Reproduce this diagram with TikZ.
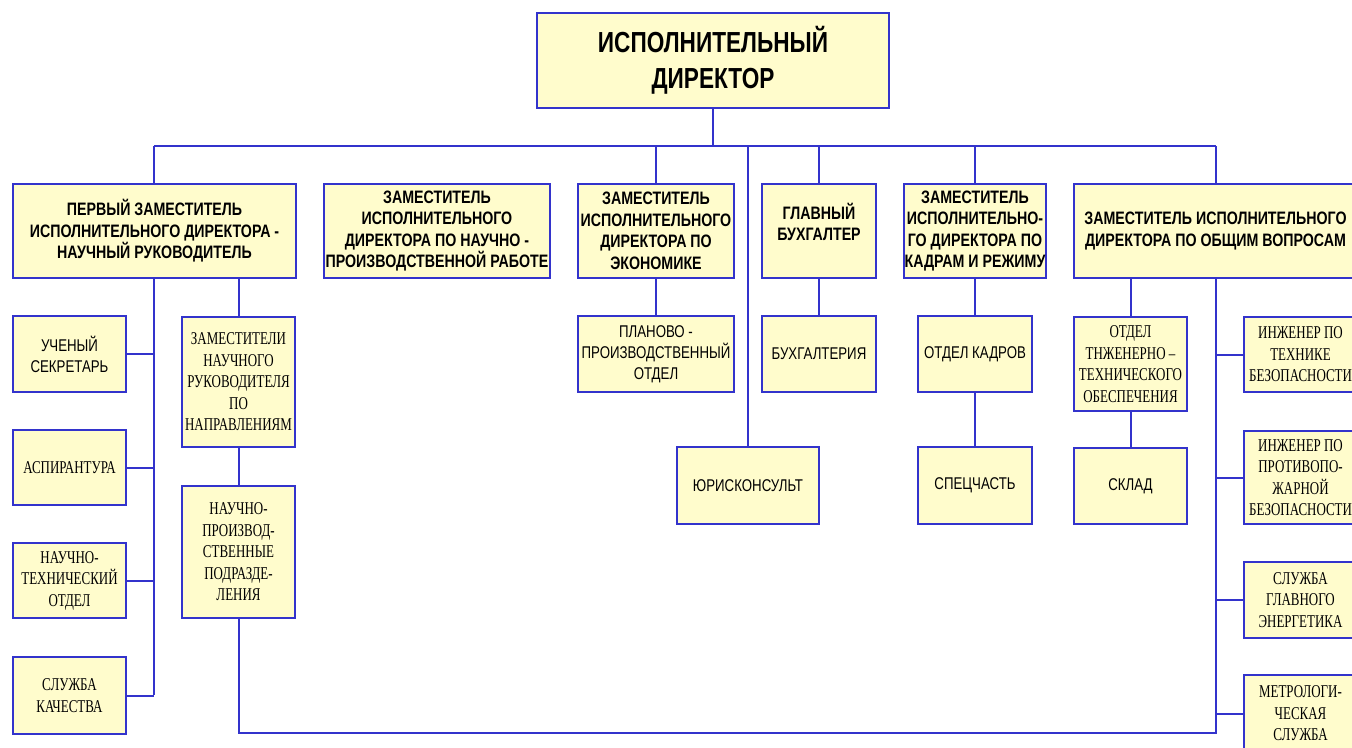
\documentclass[tikz,border=0pt]{standalone}
\usepackage{fontspec}
\setmainfont{Liberation Serif}
\setsansfont{Liberation Sans}
\newfontfamily\narrowsans[FakeStretch=0.78]{Liberation Sans}
\newfontfamily\headsans[FakeStretch=0.79]{Liberation Sans}
\newfontfamily\narrowserif[FakeStretch=0.72]{Liberation Serif}
\definecolor{orgblue}{RGB}{51,51,204}
\definecolor{orgfill}{RGB}{255,252,204}

\begin{document}
\begin{tikzpicture}[x=1pt, y=-1pt,
	box/.style={draw=orgblue, fill=orgfill, line width=2pt, inner sep=1pt, align=center},
	topbox/.style={box, font=\narrowsans\bfseries\fontsize{29}{36}\selectfont},
	headbox/.style={box, font=\headsans\bfseries\fontsize{18}{21.5}\selectfont},
	deptbox/.style={box, font=\narrowsans\fontsize{17}{21}\selectfont},
	unitbox/.style={box, font=\narrowserif\fontsize{18}{21.5}\selectfont},
	link/.style={draw=orgblue, line width=2pt}]
	\useasboundingbox (0,0) rectangle (1352,747);
	\clip (0,0) rectangle (1352,747);
	\coordinate (busl) at (154,146);
	\coordinate (busr) at (1216,146);
	\coordinate (lbus) at (154,695);
	\coordinate (rbus) at (1216,733);
	\node[topbox, minimum width=352, minimum height=95] (exec) at (713,60.5) {ИСПОЛНИТЕЛЬНЫЙ\\ДИРЕКТОР};
	\node[headbox, minimum width=283, minimum height=94] (first) at (154.5,231) {ПЕРВЫЙ ЗАМЕСТИТЕЛЬ\\ИСПОЛНИТЕЛЬНОГО ДИРЕКТОРА -\\НАУЧНЫЙ РУКОВОДИТЕЛЬ};
	\node[headbox, minimum width=226, minimum height=94] (prod) at (437,231) {ЗАМЕСТИТЕЛЬ\\ИСПОЛНИТЕЛЬНОГО\\ДИРЕКТОРА ПО НАУЧНО -\\ПРОИЗВОДСТВЕННОЙ РАБОТЕ};
	\node[headbox, minimum width=156, minimum height=94] (econ) at (656,231) {ЗАМЕСТИТЕЛЬ\\ИСПОЛНИТЕЛЬНОГО\\ДИРЕКТОРА ПО\\ЭКОНОМИКЕ};
	\node[headbox, minimum width=114, minimum height=94, text depth=18pt] (chief) at (819,231) {ГЛАВНЫЙ\\БУХГАЛТЕР};
	\node[headbox, minimum width=142, minimum height=94] (staff) at (975,231) {ЗАМЕСТИТЕЛЬ\\ИСПОЛНИТЕЛЬНО-\\ГО ДИРЕКТОРА ПО\\КАДРАМ И РЕЖИМУ};
	\node[headbox, minimum width=283, minimum height=94] (general) at (1215.5,231) {ЗАМЕСТИТЕЛЬ ИСПОЛНИТЕЛЬНОГО\\ДИРЕКТОРА ПО ОБЩИМ ВОПРОСАМ};
	\node[deptbox, minimum width=113, minimum height=76] (secr) at (69.5,354) {УЧЕНЫЙ\\СЕКРЕТАРЬ};
	\node[unitbox, minimum width=113, minimum height=75] (grad) at (69.5,467.5) {АСПИРАНТУРА};
	\node[unitbox, minimum width=113, minimum height=75] (tech) at (69.5,580.5) {НАУЧНО-\\ТЕХНИЧЕСКИЙ\\ОТДЕЛ};
	\node[unitbox, minimum width=113, minimum height=77] (qual) at (69.5,695.5) {СЛУЖБА\\КАЧЕСТВА};
	\node[unitbox, minimum width=113, minimum height=130] (deps) at (238.5,382) {ЗАМЕСТИТЕЛИ\\НАУЧНОГО\\РУКОВОДИТЕЛЯ\\ПО\\НАПРАВЛЕНИЯМ};
	\node[unitbox, minimum width=113, minimum height=132] (units) at (238.5,552) {НАУЧНО-\\ПРОИЗВОД-\\СТВЕННЫЕ\\ПОДРАЗДЕ-\\ЛЕНИЯ};
	\node[deptbox, minimum width=156, minimum height=76] (plan) at (656,354) {ПЛАНОВО -\\ПРОИЗВОДСТВЕННЫЙ\\ОТДЕЛ};
	\node[deptbox, minimum width=114, minimum height=76] (acct) at (819,354) {БУХГАЛТЕРИЯ};
	\node[deptbox, minimum width=142, minimum height=77] (legal) at (748,485.5) {ЮРИСКОНСУЛЬТ};
	\node[deptbox, minimum width=114, minimum height=76] (hr) at (975,354) {ОТДЕЛ КАДРОВ};
	\node[deptbox, minimum width=114, minimum height=77] (secret) at (975,485.5) {СПЕЦЧАСТЬ};
	\node[unitbox, minimum width=113, minimum height=94] (eng) at (1130.5,364) {ОТДЕЛ\\ТНЖЕНЕРНО –\\ТЕХНИЧЕСКОГО\\ОБЕСПЕЧЕНИЯ};
	\node[deptbox, minimum width=113, minimum height=76] (store) at (1130.5,486) {СКЛАД};
	\node[unitbox, minimum width=113, minimum height=75] (safety) at (1300.5,354.5) {ИНЖЕНЕР ПО\\ТЕХНИКЕ\\БЕЗОПАСНОСТИ};
	\node[unitbox, minimum width=113, minimum height=93] (fire) at (1300.5,477.5) {ИНЖЕНЕР ПО\\ПРОТИВОПО-\\ЖАРНОЙ\\БЕЗОПАСНОСТИ};
	\node[unitbox, minimum width=113, minimum height=76] (power) at (1300.5,600) {СЛУЖБА\\ГЛАВНОГО\\ЭНЕРГЕТИКА};
	\node[unitbox, minimum width=113, minimum height=77] (metro) at (1300.5,713.5) {МЕТРОЛОГИ-\\ЧЕСКАЯ\\СЛУЖБА};
	\draw[link] (exec) -- (exec |- busl);
	\draw[link] (busl) -- (busr);
	\draw[link] (busl) -- (busl |- first.north);
	\draw[link] (econ |- busl) -- (econ);
	\draw[link] (legal |- busl) -- (legal);
	\draw[link] (chief |- busl) -- (chief);
	\draw[link] (staff |- busl) -- (staff);
	\draw[link] (busr) -- (busr |- general.north);
	\draw[link] (first.south -| lbus) -- (lbus);
	\foreach \n in {secr,grad,tech,qual}
		\draw[link] (\n) -- (\n -| lbus);
	\draw[link] (first.south -| deps) -- (deps);
	\draw[link] (deps) -- (units);
	\draw[link] (units) |- (rbus) -- (general.south -| rbus);
	\foreach \n in {safety,fire,power,metro}
		\draw[link] (\n) -- (\n -| rbus);
	\draw[link] (econ) -- (plan);
	\draw[link] (chief) -- (acct);
	\draw[link] (staff) -- (hr) -- (secret);
	\draw[link] (general.south -| eng) -- (eng);
	\draw[link] (eng) -- (store);
\end{tikzpicture}
\end{document}
